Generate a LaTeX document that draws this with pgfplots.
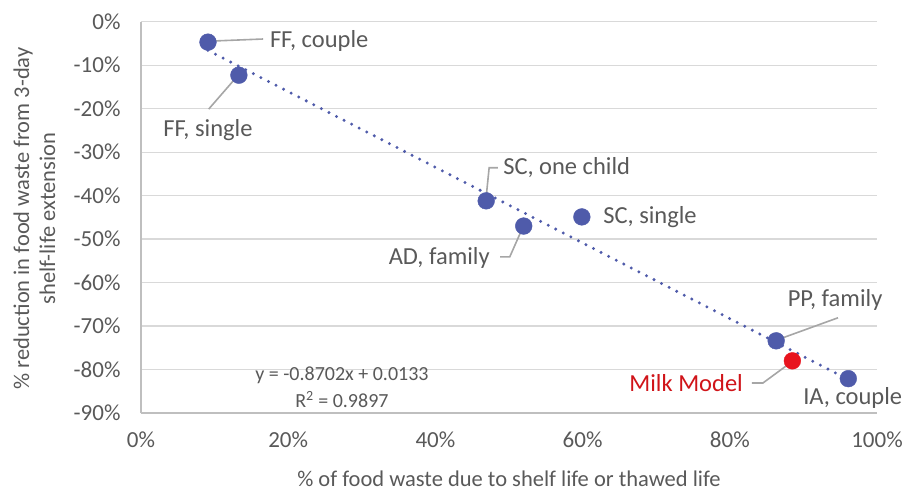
\documentclass[border=0pt]{standalone}
\usepackage{fontspec}
\setmainfont{Carlito}
\usepackage{pgfplots}
\pgfplotsset{compat=1.18}

\definecolor{txt}{HTML}{595959}
\definecolor{grd}{HTML}{D9D9D9}
\definecolor{axl}{HTML}{BFBFBF}
\definecolor{leader}{HTML}{A6A6A6}
\definecolor{dotblue}{HTML}{4F5BAA}
\definecolor{milk}{HTML}{E8141E}
\definecolor{milktxt}{HTML}{D01419}

\begin{document}
\begin{tikzpicture}
\begin{axis}[
    at={(0,0)}, anchor=south west,
    scale only axis,
    width=736pt, height=391.3pt,
    xmin=0, xmax=100,
    ymin=-90, ymax=0,
    xtick={0,20,40,60,80,100},
    xticklabels={0\%,20\%,40\%,60\%,80\%,100\%},
    ytick={-90,-80,-70,-60,-50,-40,-30,-20,-10,0},
    yticklabels={-90\%,-80\%,-70\%,-60\%,-50\%,-40\%,-30\%,-20\%,-10\%,0\%},
    axis x line*=bottom,
    axis y line*=left,
    axis line style={axl, line width=1.2pt},
    ymajorgrids,
    grid style={grd, line width=1.2pt},
    major tick length=0pt,
    tick style={draw=none},
    ticklabel style={font=\fontsize{23}{23}\selectfont, text=txt},
    xticklabel style={yshift=-15pt},
    yticklabel style={xshift=-17pt},
    xlabel={\% of food waste due to shelf life or thawed life},
    ylabel={\% reduction in food waste from 3-day\\shelf-life extension},
    label style={font=\fontsize{22.5}{26}\selectfont, text=txt},
    xlabel style={at={(axis description cs:0.5,-0.169)}, anchor=center},
    ylabel style={at={(axis description cs:-0.145,0.497)}, anchor=center, align=center},
    clip=false,
]

% households
\addplot[only marks, mark=*, mark size=8.4pt, mark options={fill=dotblue, draw=dotblue}]
coordinates {
    (9.1,-4.7) (13.3,-12.3) (46.9,-41.2) (52.0,-47.0)
    (59.9,-44.9) (86.3,-73.4) (96.1,-82.1)
};

% milk model
\addplot[only marks, mark=*, mark size=8.4pt, mark options={fill=milk, draw=milk}]
coordinates {(88.5,-78.0)};

% linear trendline (endpoints of y = -0.8702x + 0.0133)
\addplot[dotblue, line width=3.3pt, line cap=round, dash pattern=on 0pt off 8.5pt]
coordinates {(9.1,-6.59) (96.1,-82.30)};

% leader lines
\draw[leader, line width=1.6pt] (axis cs:9.8,-4.44) -- (axis cs:16.6,-3.98);
\draw[leader, line width=1.6pt] (axis cs:13.0,-12.7) -- (axis cs:9.2,-20.1);
\draw[leader, line width=1.6pt] (axis cs:46.9,-40.3) -- (axis cs:47.3,-33.6) -- (axis cs:48.5,-33.6);
\draw[leader, line width=1.6pt] (axis cs:51.9,-47.2) -- (axis cs:50.1,-54.1) -- (axis cs:48.8,-54.1);
\draw[leader, line width=1.6pt] (axis cs:86.4,-73.2) -- (axis cs:94.7,-68.1);
\draw[leader, line width=1.6pt] (axis cs:88.2,-78.5) -- (axis cs:84.5,-83.1) -- (axis cs:83.0,-83.1);

% point labels
\begin{scope}[every node/.style={font=\fontsize{24.5}{24.5}\selectfont, text=txt, inner sep=0pt}]
\node[anchor=west] at (axis cs:17.5,-4.44) {FF, couple};
\node at (axis cs:9.1,-24.9) {FF, single};
\node[anchor=west] at (axis cs:49.2,-33.6) {SC, one child};
\node[anchor=east] at (axis cs:47.4,-54.3) {AD, family};
\node[anchor=west] at (axis cs:62.8,-44.9) {SC, single};
\node at (axis cs:94.3,-64.0) {PP, family};
\node[anchor=east, text=milktxt] at (axis cs:81.8,-83.1) {Milk Model};
\node at (axis cs:96.7,-86.5) {IA, couple};
\end{scope}

% trendline equation
\node[font=\fontsize{20}{20}\selectfont, text=txt, inner sep=0pt] at (axis cs:27.3,-81.3) {y = -0.8702x + 0.0133};
\node[font=\fontsize{20}{20}\selectfont, text=txt, inner sep=0pt] at (axis cs:27.3,-86.9) {R\textsuperscript{2} = 0.9897};

\end{axis}
\pgfresetboundingbox
\path[use as bounding box] (-141pt,-80pt) rectangle (763pt,413pt);
\end{tikzpicture}
\end{document}
